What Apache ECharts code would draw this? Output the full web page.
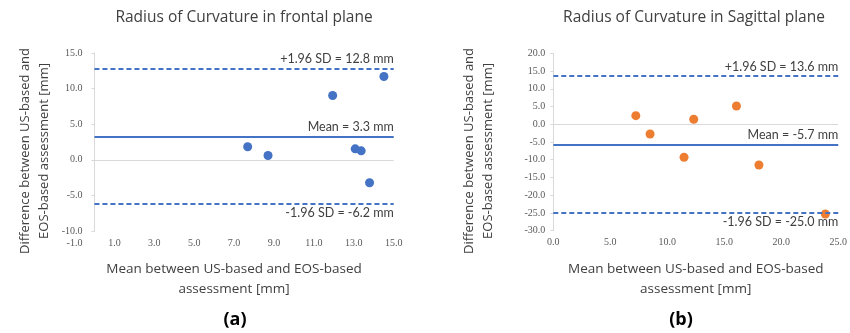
<!DOCTYPE html>
<html>
<head>
<meta charset="utf-8">
<script src="https://cdn.jsdelivr.net/npm/echarts@6/dist/echarts.min.js"></script>
<style>html,body{margin:0;padding:0;background:#fff}#c{width:850px;height:333px}</style>
</head>
<body>
<div id="c"></div>
<script>
// ---- Data ----
const titleA = 'Radius of Curvature in frontal plane';
const titleB = 'Radius of Curvature in Sagittal plane';
const xA = [7.68, 8.70, 11.94, 13.07, 13.37, 14.51, 13.79];
const yA = [1.83, 0.60, 9.03, 1.54, 1.26, 11.70, -3.23];
const xB = [7.24, 8.49, 11.47, 12.32, 16.07, 18.04, 23.87];
const yB = [2.42, -2.73, -9.30, 1.41, 5.16, -11.47, -25.30];
const levelsA = [12.8, 3.3, -6.2];
const levelsB = [13.6, -5.7, -25.0];
const levelLabelsA = ['+1.96 SD = 12.8 mm', 'Mean = 3.3 mm', '-1.96 SD = -6.2 mm'];
const levelLabelsB = ['+1.96 SD = 13.6 mm', 'Mean = -5.7 mm', '-1.96 SD = -25.0 mm'];
const xAxisA = {min: -1, max: 15, interval: 2};
const yAxisA = {min: -10, max: 15, interval: 5};
const xAxisB = {min: 0, max: 25, interval: 5};
const yAxisB = {min: -30, max: 20, interval: 5};
const xName = 'Mean between US-based and EOS-based\nassessment [mm]';
const yName = 'Difference between US-based and\nEOS-based assessment [mm]';
const panelLabels = ['(a)', '(b)'];

const sans = '"Open Sans", sans-serif';
const lato = 'Lato, sans-serif';
const serif = '"Liberation Serif", serif';
const lineColor = '#4472C4';

function zip(xs, ys){ return xs.map((x,i)=>[x, ys[i]]); }

function refLines(levels, labels, x0, x1){
  const pos = ['insideEndTop', 'insideEndTop', 'insideEndBottom'];
  const data = levels.map((v,i)=>[
    {coord:[x0, v], lineStyle:{type: i===1 ? 'solid' : [5,3], width: 2, color: lineColor},
     label:{show:true, formatter: labels[i], position: pos[i], distance: [0, 3], color:'#404040', fontFamily: lato, fontSize: 12.5}},
    {coord:[x1, v]}
  ]);
  data.unshift([{coord:[x0,0], lineStyle:{type:'solid', width:1, color:'#D9D9D9'}, label:{show:false}}, {coord:[x1,0]}]);
  return {silent:true, symbol:'none', animation:false, data};
}

function xAx(gi, a){
  return {type:'value', gridIndex: gi, min:a.min, max:a.max, interval:a.interval,
    axisLine:{show:false, onZero:false}, axisTick:{show:false}, splitLine:{show:false},
    axisLabel:{formatter: v=>v.toFixed(1), color:'#595959', fontFamily: serif, fontSize: 10, margin: 7},
    name: xName, nameLocation:'middle', nameGap: 28,
    nameTextStyle:{color:'#404040', fontFamily: sans, fontSize: 13.5, lineHeight: 20}};
}
function yAx(gi, a, margin){
  return {type:'value', gridIndex: gi, min:a.min, max:a.max, interval:a.interval,
    axisLine:{show:true, onZero:true, lineStyle:{color:'#D9D9D9'}},
    axisTick:{show:true, length:3, lineStyle:{color:'#D9D9D9'}}, splitLine:{show:false},
    axisLabel:{formatter: v=>v.toFixed(1), color:'#595959', fontFamily: serif, fontSize: 10, margin: margin}};
}
function yTitle(cx, cy){
  return {type:'text', x: cx, y: cy, rotation: Math.PI/2, silent:true,
    style:{text: yName, fill:'#404040', font: '13px "Open Sans", sans-serif', lineHeight: 19,
      align:'center', verticalAlign:'middle'}};
}

const chart = echarts.init(document.getElementById('c'), null, {renderer:'canvas'});
chart.setOption({
  animation:false,
  backgroundColor:'#fff',
  title:[
    {text: titleA, left: 239, top: 5, textAlign:'center', textStyle:{color:'#404040', fontFamily:sans, fontSize:15.5, fontWeight:'normal'}},
    {text: titleB, left: 689, top: 5, textAlign:'center', textStyle:{color:'#404040', fontFamily:sans, fontSize:15.5, fontWeight:'normal'}},
    {text: panelLabels[0], left: 230, top: 306, textAlign:'center', textStyle:{color:'#000', fontFamily:sans, fontSize:18, fontWeight:'bold'}},
    {text: panelLabels[1], left: 676, top: 306, textAlign:'center', textStyle:{color:'#000', fontFamily:sans, fontSize:18, fontWeight:'bold'}}
  ],
  graphic:[yTitle(34.5, 151), yTitle(479, 151)],
  grid:[
    {left: 74.5, top: 53, width: 319.2, height: 178},
    {left: 553.3, top: 53.3, width: 291.5, height: 177.4}
  ],
  xAxis:[xAx(0, xAxisA), xAx(1, xAxisB)],
  yAxis:[yAx(0, yAxisA, -8), yAx(1, yAxisB, 8)],
  series:[
    {type:'scatter', xAxisIndex:0, yAxisIndex:0, data: zip(xA, yA), symbolSize: 9,
     itemStyle:{color:'#4472C4', opacity:1}, markLine: refLines(levelsA, levelLabelsA, 0, xAxisA.max), z: 3},
    {type:'scatter', xAxisIndex:1, yAxisIndex:1, data: zip(xB, yB), symbolSize: 9,
     itemStyle:{color:'#ED7D31', opacity:1}, markLine: refLines(levelsB, levelLabelsB, 0, xAxisB.max), z: 3}
  ]
});
</script>
</body>
</html>
